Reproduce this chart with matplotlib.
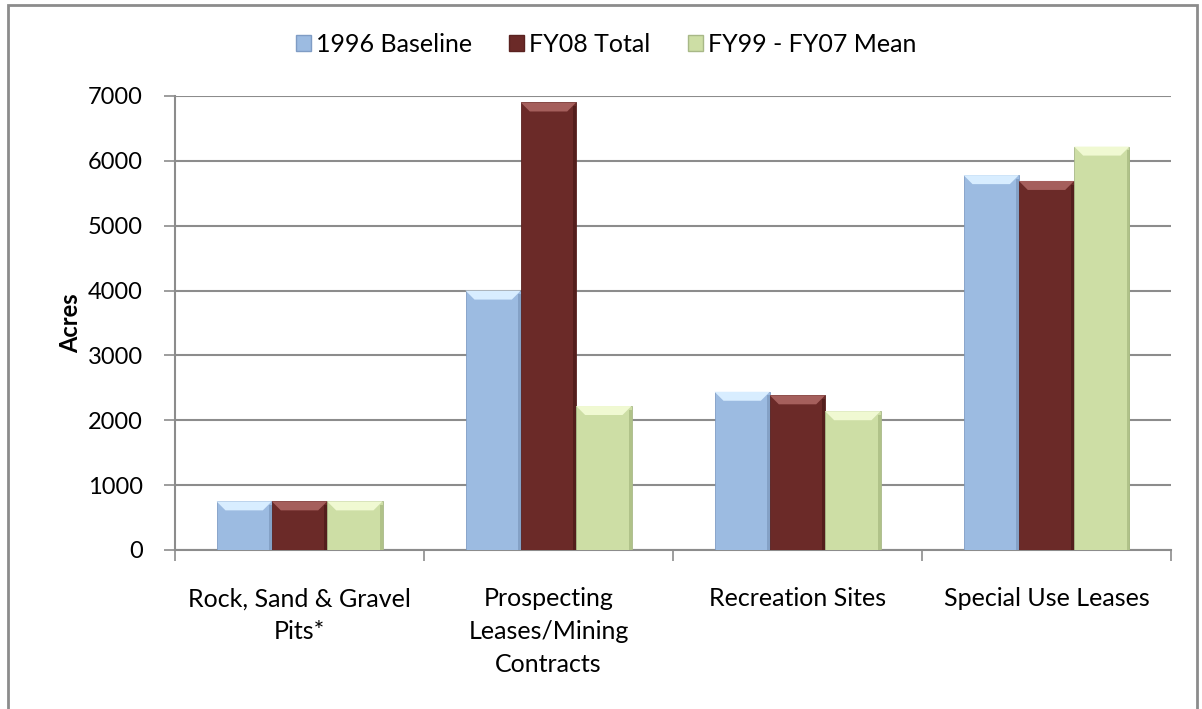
import matplotlib.pyplot as plt
from matplotlib.patches import Polygon, Rectangle, Patch
import numpy as np

plt.rcParams['font.family'] = ['Lato', 'DejaVu Sans']

# acreage by lease type
categories = ['Rock, Sand & Gravel\nPits*', 'Prospecting\nLeases/Mining\nContracts',
              'Recreation Sites', 'Special Use Leases']
series_names = ['1996 Baseline', 'FY08 Total', 'FY99 - FY07 Mean']
baseline_1996 = [750, 4000, 2440, 5780]
fy08_total = [750, 6900, 2385, 5690]
fy99_fy07_mean = [750, 2220, 2140, 6220]
y_ticks = [0, 1000, 2000, 3000, 4000, 5000, 6000, 7000]

face_colors = ['#9CBBE1', '#6B2A28', '#CDDEA5']
top_colors = ['#D8EDFF', '#A55F5C', '#F0F9D2']
side_colors = ['#7E9BC0', '#4E1B1A', '#A9BB82']
edge_colors = ['#7F9CC4', '#5A2220', '#A8B887']

fig = plt.figure(figsize=(12.02, 7.09), dpi=100)
ax = fig.add_axes([175 / 1202, 1 - 550 / 709, (1171 - 175) / 1202, (550 - 96) / 709])

x = np.arange(len(categories))
width = 1 / 4.5
ymax = 7000
# bevel sizes in pixels converted to data units
px_y = ymax / 454
px_x = 1 / 249
bevel_h = 9 * px_y
bevel_w = 9 * px_x
side_w = 3 * px_x

all_values = [baseline_1996, fy08_total, fy99_fy07_mean]
for i, values in enumerate(all_values):
    xs = x + (i - 1) * width
    bars = ax.bar(xs, values, width, color=face_colors[i], edgecolor=edge_colors[i],
                  linewidth=0.6, zorder=3)
    for bar in bars:
        x0 = bar.get_x()
        x1 = x0 + bar.get_width()
        h = bar.get_height()
        bh = min(bevel_h, h * 0.5)
        # lighter top bevel
        ax.add_patch(Polygon([(x0, h), (x1, h), (x1 - bevel_w, h - bh), (x0 + bevel_w, h - bh)],
                             closed=True, facecolor=top_colors[i], edgecolor='none', zorder=4))
        # darker right edge
        ax.add_patch(Rectangle((x1 - side_w, 0), side_w, h - bh * 0.4,
                               facecolor=side_colors[i], edgecolor='none', zorder=4, alpha=0.8))

ax.set_ylim(0, ymax)
ax.set_xlim(-0.5, len(categories) - 0.5)
ax.set_yticks(y_ticks)
ax.tick_params(axis='y', labelsize=17, length=8, width=1.2, color='#8C8C8C', pad=15)
ax.yaxis.grid(True, color='#8C8C8C', linewidth=1.5, zorder=0)
ax.set_axisbelow(True)

# category labels centred, tick marks on the boundaries
ax.set_xticks(x)
ax.set_xticklabels(categories, fontsize=18, linespacing=1.5)
ax.tick_params(axis='x', length=0, pad=27)
ax.set_xticks(np.arange(len(categories) + 1) - 0.5, minor=True)
ax.tick_params(axis='x', which='minor', length=8, width=1.2, color='#8C8C8C')

for side in ['top', 'right']:
    ax.spines[side].set_visible(False)
for side in ['left', 'bottom']:
    ax.spines[side].set_color('#8C8C8C')
    ax.spines[side].set_linewidth(1.5)

ax.set_ylabel('Acres', fontsize=17, fontweight='bold', labelpad=4)

handles = [Patch(facecolor=face_colors[i], edgecolor=edge_colors[i], label=series_names[i])
           for i in range(3)]
fig.legend(handles=handles, loc='center', bbox_to_anchor=(606 / 1202, 1 - 44 / 709), ncol=3,
           frameon=False, fontsize=18, handlelength=0.6, handleheight=0.6,
           handletextpad=0.2, columnspacing=1.5)

# chart border running off the bottom of the canvas
fig.patches.append(Rectangle((8 / 1202, -0.2), (1197 - 8) / 1202, 1.2 - 5 / 709,
                             transform=fig.transFigure, fill=False,
                             edgecolor='#8C8C8C', linewidth=2))

fig.savefig('out.png', dpi=100)
